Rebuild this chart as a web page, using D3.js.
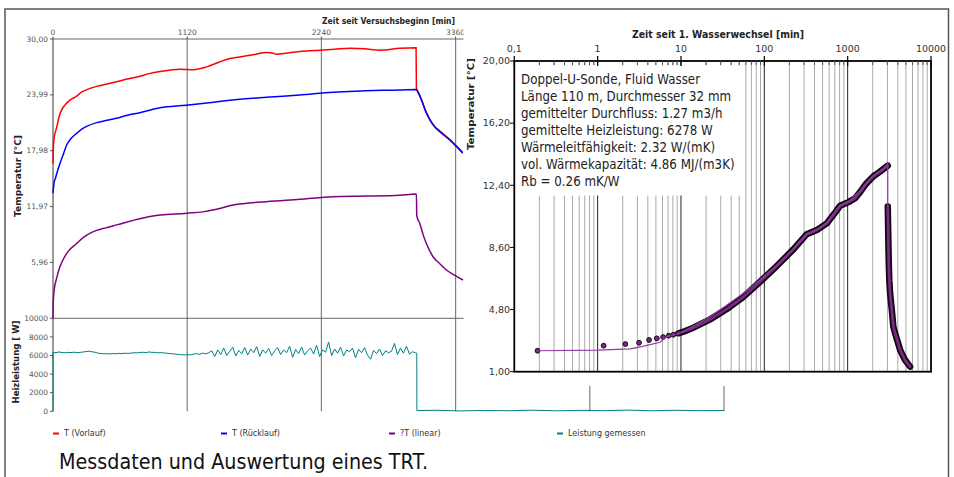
<!DOCTYPE html>
<html>
<head>
<meta charset="utf-8">
<script src="https://cdn.jsdelivr.net/npm/d3@7"></script>
<style>
  body { margin: 0; background: #fff; }
  text { font-family: "DejaVu Sans", Verdana, sans-serif; }
</style>
</head>
<body>
<svg id="chart" width="954" height="477"></svg>
<script>
// ---------------- left chart: minutes since test start ----------------
var timeTicks = [0, 1120, 2240, 3360, 4480, 5600];
var timeLabels = ["0", "1120", "2240", "3360"];   // the rest sit under the right chart
var tempTicks = [30.00, 23.99, 17.98, 11.97, 5.96];
var powerTicks = [0, 2000, 4000, 6000, 8000, 10000];

// [minute, °C]
var vorlauf = [[0,16.6],[4,18.6],[10,19.4],[20,20.0],[31,20.5],[50,21.6],[73,22.4],[114,23.1],[150,23.5],
  [198,23.85],[240,24.3],[281,24.55],[364,24.9],[450,25.15],[531,25.4],[620,25.7],[725,26.0],[810,26.3],
  [892,26.5],[1059,26.75],[1170,26.7],[1282,27.0],[1393,27.55],[1476,27.9],[1570,28.1],[1670,28.3],
  [1782,28.55],[1830,28.5],[1865,28.35],[1960,28.5],[2060,28.65],[2227,28.8],[2350,28.9],[2476,29.0],
  [2600,28.95],[2727,28.8],[2893,29.0],[3030,29.07],[3033,24.7],[3050,24.2],[3075,23.5],[3110,22.3],
  [3145,21.35],[3185,20.6],[3228,20.1],[3311,19.2],[3420,17.8]];
var ruecklauf = [[0,13.4],[4,14.0],[10,14.6],[20,15.0],[31,15.5],[55,16.5],[86,17.6],[114,18.6],[150,19.3],
  [198,19.85],[240,20.3],[281,20.6],[364,21.0],[450,21.25],[531,21.47],[620,21.8],[725,22.07],[892,22.6],
  [1112,22.87],[1300,23.15],[1501,23.44],[1782,23.73],[2060,23.98],[2337,24.27],[2615,24.44],
  [2893,24.51],[3033,24.58],[3050,24.2],[3075,23.44],[3110,22.2],[3145,21.29],[3185,20.55],[3228,20.03],
  [3311,19.13],[3420,17.7]];
var deltaT = [[0,-0.05],[3,1.9],[10,3.0],[31,4.3],[55,5.4],[86,6.3],[130,7.2],[198,8.0],[260,8.7],[336,9.27],
  [430,9.65],[531,10.0],[809,10.9],[1115,11.25],[1250,11.4],[1365,11.68],[1504,12.14],[1782,12.5],
  [2060,12.75],[2337,13.03],[2615,13.1],[2893,13.2],[3033,13.32],[3036,10.97],[3060,10.2],[3090,8.9],
  [3116,8.0],[3172,6.57],[3230,5.8],[3283,5.15],[3350,4.6],[3422,4.07]];

// measured heating power [W], one reading per 25 min from minute 0
var powerStep = 25;
var powerOn = [6350,6300,6380,6320,6290,6340,6310,6360,6300,6330,6380,6420,6470,6400,6350,
  6250,6220,6180,6200,6160,6210,6190,6230,6200,6250,6220,6260,6300,6280,6320,6350,6300,6380,6340,6330,
  6290,6310,6270,6250,6200,6180,6150,6100,6080,6050,
  6100,6060,6150,6200,6120,6250,6180,6300,
  6500,5900,6600,6100,6800,6000,6450,6900,5950,6550,6200,6850,6050,6700,6300,6950,5900,6600,6250,6750,
  6000,6500,6850,6100,6600,6300,7000,5800,6650,6200,6900,6050,6500,6800,6150,7100,5900,6600,6350,7450,
  6000,6700,6250,6900,5950,6600,6400,6800,5750,6650,6300,6850,6050,5600,6550,6200,6700,6000,6500,6300,
  6450,7300,6100,6800,6250,7000,6150,6400,6300];
var powerOff = [[3036,6250],[3037,80],[3200,110],[3400,40],[3600,90],[3800,60],[4000,120],[4200,50],
  [4400,100],[4600,70],[4800,130],[5000,60],[5200,110],[5400,70],[5600,90]];

var legendNames = ["T (Vorlauf)", "T (Rücklauf)", "?T (linear)", "Leistung gemessen"];
var legendColors = ["#ff0000", "#0000ff", "#800080", "#008080"];

// ---------------- right chart: minutes since 1st water change (log) ----------------
var logTickValues = [0.1, 1, 10, 100, 1000, 10000];
var logTickLabels = ["0,1", "1", "10", "100", "1000", "10000"];
var logTempTicks = [1.0, 4.8, 8.6, 12.4, 16.2, 20.0];

// single early readings [minute, °C]
var earlyPoints = [[0.19,2.28],[1.18,2.59],[2.15,2.69],[3.14,2.77],[4.14,2.94],[5.12,3.04],
  [6.1,3.12],[7.13,3.20],[8.1,3.26],[9.3,3.35]];
// dense heating readings
var heatingPoints = [[9.3,3.35],[10.5,3.43],[14.1,3.69],[22.4,4.2],[35.4,4.83],[56.1,5.58],[88.9,6.5],
  [141,7.46],[223,8.48],[323,9.41],[426,9.66],[561,10.07],[700,10.7],[811,11.15],[1021,11.37],
  [1227,11.61],[1409,11.98],[1650,12.47],[2037,12.95],[2400,13.2],[2700,13.4],[3028,13.6]];
// dense recovery readings
var recoveryPoints = [[3030,11.1],[3050,10.2],[3083,8.8],[3120,7.5],[3160,6.6],[3228,5.8],[3383,4.8],
  [3535,3.75],[3707,3.35],[4000,2.8],[4256,2.33],[4887,1.71],[5610,1.31]];
// fitted curve
var fitLine = [[0.19,2.28],[1,2.32],[2.45,2.4],[3.38,2.53],[5.6,2.8],[6.75,3.14],[9.75,3.35],[14.1,3.79],
  [22.4,4.36],[35.4,5.07],[56,5.79],[89,6.64],[141,7.5],[223,8.5],[323,9.42],[426,9.7],[561,10.1],
  [811,11.15],[1021,11.4],[1409,12.05],[2037,13.0],[2685,13.4],[3028,13.75],[3029,11.1]];

var infoLines = ["Doppel-U-Sonde, Fluid Wasser", "Länge 110 m, Durchmesser 32 mm",
  "gemittelter Durchfluss: 1.27 m3/h", "gemittelte Heizleistung: 6278 W",
  "Wärmeleitfähigkeit: 2.32 W/(mK)", "vol. Wärmekapazität: 4.86 MJ/(m3K)", "Rb = 0.26 mK/W"];

var caption = "Messdaten und Auswertung eines TRT.";

// =====================================================================
var svg = d3.select("#chart");
var comma = function(v) { return d3.format(".2f")(v).replace(".", ","); };

// outer frame
svg.append("path")
  .attr("d", "M5,477 V9 H948.5 V477")
  .attr("fill", "none").attr("stroke", "#555").attr("stroke-width", 1.5);

/*------------------------------ left chart ------------------------------*/
var x = d3.scaleLinear().domain([0, 5600]).range([53, 724]);
var yT = d3.scaleLinear().domain([-0.05, 30]).range([318.3, 39]);
var yP = d3.scaleLinear().domain([0, 10000]).range([411.3, 318.3]);

var left = svg.append("g");

// vertical grid
left.selectAll(".vgrid").data(timeTicks.slice(1)).enter().append("line")
  .attr("x1", function(d) { return x(d); }).attr("x2", function(d) { return x(d); })
  .attr("y1", 39).attr("y2", 411.3)
  .attr("stroke", "#808080").attr("stroke-width", 1.2);

// top border, separator, left axis
left.append("line").attr("x1", 53).attr("x2", 724).attr("y1", 39).attr("y2", 39)
  .attr("stroke", "#666").attr("stroke-width", 1);
left.append("line").attr("x1", 53).attr("x2", 724).attr("y1", 318.3).attr("y2", 318.3)
  .attr("stroke", "#666").attr("stroke-width", 1);
left.append("line").attr("x1", 53).attr("x2", 53).attr("y1", 39).attr("y2", 411.3)
  .attr("stroke", "#333").attr("stroke-width", 1);

// top time axis labels
left.selectAll(".tlab").data(timeLabels).enter().append("text")
  .attr("x", function(d, i) { return x(timeTicks[i]); }).attr("y", 35)
  .attr("text-anchor", "middle").attr("font-size", 7.5).attr("fill", "#555")
  .text(function(d) { return d; });
left.selectAll(".ttick").data(timeTicks).enter().append("line")
  .attr("x1", function(d) { return x(d); }).attr("x2", function(d) { return x(d); })
  .attr("y1", 36.5).attr("y2", 39).attr("stroke", "#555");

left.append("text").attr("x", 455).attr("y", 24).attr("text-anchor", "end")
  .attr("font-size", 9).attr("font-weight", "bold").attr("fill", "#222")
  .attr("textLength", 133).attr("lengthAdjust", "spacingAndGlyphs")
  .text("Zeit seit Versuchsbeginn [min]");

// temperature axis
left.selectAll(".ylab").data(tempTicks).enter().append("text")
  .attr("x", 48).attr("y", function(d) { return yT(d); }).attr("dy", "0.35em")
  .attr("text-anchor", "end").attr("font-size", 7.5).attr("fill", "#555")
  .text(comma);
left.selectAll(".ytick").data(tempTicks).enter().append("line")
  .attr("x1", 50).attr("x2", 53)
  .attr("y1", function(d) { return yT(d); }).attr("y2", function(d) { return yT(d); })
  .attr("stroke", "#555");
left.append("text").attr("transform", "translate(21,176) rotate(-90)")
  .attr("text-anchor", "middle").attr("font-size", 8.5).attr("font-weight", "bold").attr("fill", "#222")
  .attr("textLength", 82).attr("lengthAdjust", "spacingAndGlyphs")
  .text("Temperatur [°C]");

// power axis
left.selectAll(".plab").data(powerTicks).enter().append("text")
  .attr("x", 48).attr("y", function(d) { return yP(d); }).attr("dy", "0.35em")
  .attr("text-anchor", "end").attr("font-size", 7.5).attr("fill", "#555")
  .text(function(d) { return d; });
left.selectAll(".ptick").data(powerTicks).enter().append("line")
  .attr("x1", 50).attr("x2", 53)
  .attr("y1", function(d) { return yP(d); }).attr("y2", function(d) { return yP(d); })
  .attr("stroke", "#555");
left.append("text").attr("transform", "translate(19,362) rotate(-90)")
  .attr("text-anchor", "middle").attr("font-size", 8.5).attr("font-weight", "bold").attr("fill", "#222")
  .attr("textLength", 83).attr("lengthAdjust", "spacingAndGlyphs")
  .text("Heizleistung [ W]");

// curves
var lineT = d3.line().curve(d3.curveMonotoneX)
  .x(function(d) { return x(d[0]); }).y(function(d) { return yT(d[1]); });
var lineP = d3.line().x(function(d) { return x(d[0]); }).y(function(d) { return yP(d[1]); });

var powerSeries = [[0, 0]].concat(powerOn.map(function(v, i) { return [i * powerStep, v]; }), powerOff);

left.append("path").attr("d", lineP(powerSeries))
  .attr("fill", "none").attr("stroke", "#008080").attr("stroke-width", 1);
left.append("path").attr("d", lineT(deltaT))
  .attr("fill", "none").attr("stroke", "#800080").attr("stroke-width", 1.5);
left.append("path").attr("d", lineT(vorlauf))
  .attr("fill", "none").attr("stroke", "#ff0000").attr("stroke-width", 1.5);
left.append("path").attr("d", lineT(ruecklauf))
  .attr("fill", "none").attr("stroke", "#0000ff").attr("stroke-width", 1.5);

// legend
var legend = svg.append("g").selectAll("g").data(legendNames).enter().append("g")
  .attr("transform", function(d, i) { return "translate(" + (53 + i * 168) + ",433.5)"; });
legend.append("line").attr("x1", 0).attr("x2", 6).attr("y1", 0).attr("y2", 0)
  .attr("stroke", function(d, i) { return legendColors[i]; }).attr("stroke-width", 2);
legend.append("text").attr("x", 11).attr("dy", "0.35em")
  .attr("font-size", 8).attr("fill", "#333")
  .text(function(d) { return d; });

/*------------------------------ right chart ------------------------------*/
var xL = d3.scaleLog().domain([0.1, 10000]).range([514.3, 931]);
var yL = d3.scaleLinear().domain([1, 20]).range([371.7, 61]);

var right = svg.append("g");
right.append("rect").attr("x", 463.5).attr("y", 27).attr("width", 482).attr("height", 359)
  .attr("fill", "#fff");

// log grid
var minorVals = [], majorVals = [1, 10, 100, 1000];
[0.1, 1, 10, 100, 1000].forEach(function(base) {
  d3.range(2, 10).forEach(function(m) { minorVals.push(m * base); });
});
right.selectAll(".minor").data(minorVals).enter().append("line")
  .attr("x1", function(d) { return xL(d); }).attr("x2", function(d) { return xL(d); })
  .attr("y1", 61).attr("y2", 371.7)
  .attr("stroke", "#aaa").attr("stroke-width", 1);
right.selectAll(".major").data(majorVals).enter().append("line")
  .attr("x1", function(d) { return xL(d); }).attr("x2", function(d) { return xL(d); })
  .attr("y1", 61).attr("y2", 371.7)
  .attr("stroke", "#222").attr("stroke-width", 1);

// info box (hides grid behind it)
right.append("rect").attr("x", 515.5).attr("y", 65.5).attr("width", 227).attr("height", 130)
  .attr("fill", "#fff");
var info = right.append("g").selectAll("text").data(infoLines).enter().append("text")
  .attr("x", 521).attr("y", function(d, i) { return 84 + i * 17; })
  .attr("font-family", "'Open Sans', 'Noto Sans', sans-serif").attr("font-size", 14.5).attr("fill", "#222")
  .text(function(d) { return d; });
var refW = info.nodes()[1].getComputedTextLength();
info.each(function() {
  var w = this.getComputedTextLength();
  d3.select(this).attr("textLength", w * 210 / refW).attr("lengthAdjust", "spacingAndGlyphs");
});

// frame
right.append("rect").attr("x", 514.3).attr("y", 61).attr("width", 931 - 514.3).attr("height", 371.7 - 61)
  .attr("fill", "none").attr("stroke", "#000").attr("stroke-width", 1.8);

// top tick marks
right.selectAll(".mtick").data(minorVals).enter().append("line")
  .attr("x1", function(d) { return xL(d); }).attr("x2", function(d) { return xL(d); })
  .attr("y1", 61).attr("y2", 65).attr("stroke", "#555");
right.selectAll(".Mtick").data(logTickValues).enter().append("line")
  .attr("x1", function(d) { return xL(d); }).attr("x2", function(d) { return xL(d); })
  .attr("y1", 56).attr("y2", 66).attr("stroke", "#000").attr("stroke-width", 1.2);
right.selectAll(".xlab").data(logTickValues).enter().append("text")
  .attr("x", function(d) { return xL(d); }).attr("y", 52)
  .attr("text-anchor", "middle").attr("font-size", 9.5).attr("fill", "#333")
  .text(function(d, i) { return logTickLabels[i]; });
right.append("text").attr("x", 718).attr("y", 38).attr("text-anchor", "middle")
  .attr("font-size", 10).attr("font-weight", "bold").attr("fill", "#222")
  .attr("textLength", 172).attr("lengthAdjust", "spacingAndGlyphs")
  .text("Zeit seit 1. Wasserwechsel [min]");

// y axis
right.selectAll(".ylab").data(logTempTicks).enter().append("text")
  .attr("x", 510).attr("y", function(d) { return yL(d); }).attr("dy", "0.35em")
  .attr("text-anchor", "end").attr("font-size", 9.5).attr("fill", "#333")
  .text(comma);
right.selectAll(".ytick").data(logTempTicks).enter().append("line")
  .attr("x1", 510).attr("x2", 514.3)
  .attr("y1", function(d) { return yL(d); }).attr("y2", function(d) { return yL(d); })
  .attr("stroke", "#000");
right.append("text").attr("transform", "translate(474,104) rotate(-90)")
  .attr("text-anchor", "middle").attr("font-size", 9.5).attr("font-weight", "bold").attr("fill", "#222")
  .attr("textLength", 92).attr("lengthAdjust", "spacingAndGlyphs")
  .text("Temperatur [°C]");

// measurements
var lineL = d3.line().x(function(d) { return xL(d[0]); }).y(function(d) { return yL(d[1]); });
[heatingPoints, recoveryPoints].forEach(function(pts) {
  right.append("path").attr("d", lineL(pts)).attr("fill", "none")
    .attr("stroke", "#120612").attr("stroke-width", 6.5).attr("stroke-linejoin", "round").attr("stroke-linecap", "round");
  right.append("path").attr("d", lineL(pts)).attr("fill", "none")
    .attr("stroke", "#7a2a85").attr("stroke-width", 2.8).attr("stroke-linejoin", "round").attr("stroke-linecap", "round");
});
right.selectAll(".pt").data(earlyPoints).enter().append("circle")
  .attr("cx", function(d) { return xL(d[0]); }).attr("cy", function(d) { return yL(d[1]); })
  .attr("r", 2.4).attr("fill", "#7a2a85").attr("stroke", "#120612").attr("stroke-width", 1);

right.append("path").attr("d", lineL(fitLine)).attr("fill", "none")
  .attr("stroke", "#8e3c9e").attr("stroke-width", 1.2);

/*------------------------------ caption ------------------------------*/
svg.append("text").attr("x", 59).attr("y", 469)
  .attr("font-family", "'Open Sans', 'Noto Sans', sans-serif").attr("font-size", 22).attr("fill", "#111")
  .attr("textLength", 369).attr("lengthAdjust", "spacingAndGlyphs")
  .text(caption);
</script>
</body>
</html>
